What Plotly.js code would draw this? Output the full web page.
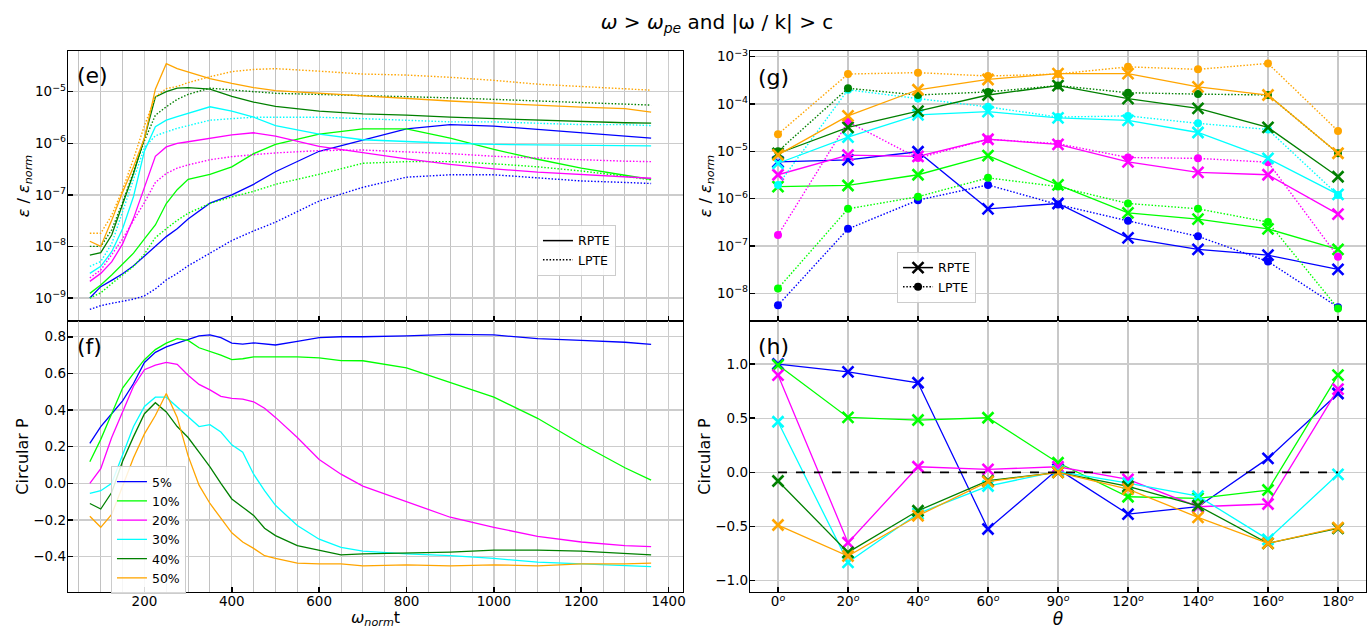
<!DOCTYPE html>
<html>
<head>
<meta charset="utf-8">
<script src="https://cdn.plot.ly/plotly-3.0.1.min.js"></script>
<style>html,body{margin:0;padding:0;background:#fff;}#chart{width:1367px;height:629px;}</style>
</head>
<body>
<div id="chart"></div>
<script>
// ---------- DATA ----------
const seriesNames = ['5%', '10%', '20%', '30%', '40%', '50%'];
const seriesColors = ['#0000ff', '#00ff00', '#ff00ff', '#00ffff', '#008000', '#ffa500'];

// (e) energy vs time
const tE = [75,100,125,150,175,200,225,250,275,300,350,400,450,500,600,700,800,900,1000,1100,1200,1300,1360];
const eR5  = [1.0e-9,1.66e-9,2.2e-9,2.95e-9,4.2e-9,6.5e-9,1.0e-8,1.55e-8,2.2e-8,3.4e-8,6.9e-8,1.0e-7,1.6e-7,2.8e-7,7.0e-7,1.15e-6,1.9e-6,2.3e-6,2.15e-6,1.86e-6,1.6e-6,1.38e-6,1.26e-6];
const eL5  = [6.0e-10,7.1e-10,7.9e-10,8.7e-10,9.5e-10,1.1e-9,1.5e-9,2.24e-9,3.0e-9,4.2e-9,7.4e-9,1.3e-8,2.0e-8,2.95e-8,7.6e-8,1.4e-7,2.2e-7,2.45e-7,2.45e-7,2.1e-7,1.86e-7,1.74e-7,1.66e-7];
const eR10 = [1.23e-9,1.78e-9,2.8e-9,4.5e-9,7.4e-9,1.4e-8,2.6e-8,6.8e-8,1.26e-7,2.0e-7,2.5e-7,3.5e-7,6.3e-7,9.5e-7,1.5e-6,1.9e-6,1.9e-6,1.26e-6,7.6e-7,4.9e-7,3.3e-7,2.4e-7,2.0e-7];
const eL10 = [1.0e-9,1.26e-9,1.9e-9,2.8e-9,4.1e-9,7.1e-9,1.48e-8,2.2e-8,3.2e-8,4.4e-8,6.8e-8,9.1e-8,1.17e-7,1.6e-7,2.5e-7,4.1e-7,4.4e-7,4.4e-7,4.0e-7,3.5e-7,2.9e-7,2.3e-7,1.95e-7];
const eR20 = [2.1e-9,3.0e-9,5.0e-9,1.12e-8,3.5e-8,1.4e-7,5.6e-7,8.5e-7,1.0e-6,1.07e-6,1.26e-6,1.45e-6,1.6e-6,1.38e-6,8.7e-7,6.5e-7,5.0e-7,3.9e-7,3.2e-7,2.75e-7,2.45e-7,2.2e-7,2.1e-7];
const eL20 = [2.45e-9,3.5e-9,6.9e-9,1.4e-8,3.2e-8,7.1e-8,1.74e-7,2.6e-7,3.3e-7,3.8e-7,4.8e-7,5.5e-7,6.0e-7,6.5e-7,7.2e-7,7.4e-7,6.8e-7,6.3e-7,5.6e-7,5.1e-7,4.8e-7,4.5e-7,4.4e-7];
const eR30 = [3.0e-9,4.1e-9,7.9e-9,2.2e-8,9.3e-8,7.1e-7,2.1e-6,2.8e-6,3.3e-6,3.8e-6,5.1e-6,4.2e-6,3.2e-6,2.2e-6,1.5e-6,1.17e-6,1.07e-6,1.0e-6,9.5e-7,9.3e-7,9.1e-7,8.9e-7,8.9e-7];
const eL30 = [4.1e-9,5.1e-9,1.12e-8,4.5e-8,2.0e-7,8.3e-7,1.4e-6,1.66e-6,1.95e-6,2.2e-6,2.8e-6,3.0e-6,3.2e-6,3.2e-6,3.2e-6,3.0e-6,2.8e-6,2.6e-6,2.6e-6,2.45e-6,2.3e-6,2.3e-6,2.2e-6];
const eR40 = [6.8e-9,7.6e-9,1.66e-8,6.6e-8,2.6e-7,1.26e-6,7.9e-6,1.0e-5,1.17e-5,1.2e-5,1.12e-5,8.1e-6,6.3e-6,5.2e-6,4.2e-6,3.7e-6,3.5e-6,3.2e-6,3.0e-6,2.8e-6,2.6e-6,2.5e-6,2.45e-6];
const eL40 = [1.0e-8,1.0e-8,2.1e-8,7.1e-8,2.8e-7,1.12e-6,3.5e-6,5.1e-6,7.1e-6,8.9e-6,1.17e-5,1.1e-5,1.0e-5,9.3e-6,8.9e-6,8.5e-6,7.9e-6,7.6e-6,7.1e-6,6.6e-6,6.2e-6,5.8e-6,5.5e-6];
const eR50 = [1.26e-8,1.0e-8,3.2e-8,1.12e-7,3.5e-7,1.26e-6,1.12e-5,3.5e-5,2.8e-5,2.4e-5,1.8e-5,1.45e-5,1.2e-5,1.05e-5,9.3e-6,8.3e-6,7.4e-6,6.6e-6,6.0e-6,5.4e-6,5.0e-6,4.7e-6,4.0e-6];
const eL50 = [1.8e-8,1.8e-8,4.0e-8,1.26e-7,5.0e-7,2.2e-6,7.9e-6,1.15e-5,1.26e-5,1.5e-5,1.95e-5,2.45e-5,2.7e-5,2.8e-5,2.5e-5,2.2e-5,2.1e-5,1.9e-5,1.66e-5,1.4e-5,1.26e-5,1.12e-5,1.07e-5];

// (f) circular polarisation vs time
const tP = [75,100,125,150,175,200,225,250,275,300,325,350,375,400,425,450,475,500,550,600,650,700,800,900,1000,1100,1200,1300,1360];
const p5  = [0.218,0.31,0.38,0.45,0.545,0.66,0.715,0.745,0.765,0.785,0.805,0.81,0.795,0.765,0.76,0.767,0.76,0.755,0.775,0.795,0.80,0.80,0.805,0.813,0.81,0.79,0.78,0.77,0.758];
const p10 = [0.118,0.24,0.38,0.52,0.60,0.675,0.73,0.765,0.79,0.78,0.74,0.72,0.70,0.675,0.68,0.69,0.688,0.69,0.69,0.685,0.67,0.669,0.63,0.55,0.47,0.355,0.215,0.085,0.018];
const p20 = [0.0,0.08,0.25,0.39,0.53,0.62,0.645,0.66,0.65,0.59,0.54,0.51,0.475,0.464,0.46,0.445,0.41,0.36,0.25,0.13,0.05,-0.015,-0.10,-0.185,-0.24,-0.29,-0.32,-0.34,-0.345];
const p30 = [-0.055,-0.04,0.0,0.15,0.31,0.42,0.47,0.47,0.415,0.36,0.31,0.32,0.28,0.21,0.17,0.05,-0.04,-0.12,-0.23,-0.305,-0.35,-0.37,-0.385,-0.395,-0.41,-0.43,-0.44,-0.45,-0.455];
const p40 = [-0.11,-0.14,-0.05,0.12,0.255,0.38,0.44,0.39,0.31,0.25,0.17,0.09,0.0,-0.085,-0.13,-0.175,-0.245,-0.285,-0.34,-0.365,-0.39,-0.385,-0.38,-0.375,-0.365,-0.365,-0.37,-0.38,-0.39];
const p50 = [-0.18,-0.24,-0.17,-0.02,0.14,0.27,0.37,0.49,0.36,0.15,-0.01,-0.11,-0.19,-0.27,-0.32,-0.355,-0.395,-0.41,-0.435,-0.44,-0.44,-0.45,-0.445,-0.45,-0.445,-0.45,-0.44,-0.44,-0.435];

// (g),(h) versus angle
const thetaDeg = [0,20,40,60,90,120,140,160,180];
const gR5  = [6.0e-6,6.6e-6,9.8e-6,6.1e-7,7.9e-7,1.48e-7,8.5e-8,6.4e-8,3.2e-8];
const gR10 = [1.8e-6,1.9e-6,3.2e-6,8.1e-6,1.95e-6,5.0e-7,3.7e-7,2.3e-7,8.5e-8];
const gR20 = [3.2e-6,8.3e-6,7.8e-6,1.8e-5,1.4e-5,6.0e-6,3.6e-6,3.2e-6,4.7e-7];
const gR30 = [5.6e-6,2.0e-5,5.9e-5,6.9e-5,5.1e-5,4.5e-5,2.5e-5,7.1e-6,1.23e-6];
const gR40 = [9.0e-6,3.2e-5,7.1e-5,1.55e-4,2.45e-4,1.3e-4,8.1e-5,3.2e-5,2.9e-6];
const gR50 = [8.4e-6,5.6e-5,2.0e-4,3.3e-4,4.4e-4,4.4e-4,2.3e-4,1.55e-4,9.1e-6];
const gL5  = [5.6e-9,2.3e-7,9.3e-7,1.95e-6,7.5e-7,3.4e-7,1.6e-7,4.7e-8,5.1e-9];
const gL10 = [1.26e-8,6.1e-7,1.1e-6,2.75e-6,1.8e-6,7.9e-7,6.1e-7,3.2e-7,4.8e-9];
const gL20 = [1.7e-7,4.2e-5,7.2e-6,1.8e-5,1.45e-5,7.4e-6,7.1e-6,5.9e-6,5.9e-8];
const gL30 = [1.95e-6,2.0e-4,1.3e-4,8.7e-5,5.3e-5,5.6e-5,3.9e-5,2.9e-5,1.2e-6];
const gL40 = [1.0e-5,2.15e-4,1.55e-4,1.8e-4,2.45e-4,1.73e-4,1.62e-4,1.55e-4,9.1e-6];
const gL50 = [2.3e-5,4.3e-4,4.6e-4,3.9e-4,4.3e-4,6.1e-4,5.4e-4,7.2e-4,2.7e-5];

const h5  = [1.0,0.928,0.827,-0.523,0.03,-0.385,-0.317,0.129,0.728];
const h10 = [0.99,0.507,0.483,0.504,0.089,-0.225,-0.24,-0.163,0.898];
const h20 = [0.898,-0.649,0.052,0.028,0.052,-0.065,-0.317,-0.292,0.768];
const h30 = [0.467,-0.83,-0.38,-0.126,0.01,-0.10,-0.219,-0.618,-0.018];
const h40 = [-0.08,-0.738,-0.354,-0.077,0.0,-0.13,-0.308,-0.655,-0.517];
const h50 = [-0.486,-0.772,-0.40,-0.085,0.0,-0.154,-0.415,-0.655,-0.51];

const eRPTE = [eR5,eR10,eR20,eR30,eR40,eR50];
const eLPTE = [eL5,eL10,eL20,eL30,eL40,eL50];
const pSeries = [p5,p10,p20,p30,p40,p50];
const gRPTE = [gR5,gR10,gR20,gR30,gR40,gR50];
const gLPTE = [gL5,gL10,gL20,gL30,gL40,gL50];
const hSeries = [h5,h10,h20,h30,h40,h50];
const thetaText = thetaDeg.map(d => d + '<sup><i>o</i></sup>');

// ---------- TRACES ----------
const traces = [];
const LW = 1.3;
const DOT = '1.5px,1.8px';
for (let i = 0; i < 6; i++) {
  traces.push({x: tE, y: eRPTE[i], xaxis: 'x', yaxis: 'y', mode: 'lines',
    line: {color: seriesColors[i], width: LW}, showlegend: false, hoverinfo: 'skip'});
  traces.push({x: tE, y: eLPTE[i], xaxis: 'x', yaxis: 'y', mode: 'lines',
    line: {color: seriesColors[i], width: 1.4, dash: DOT}, showlegend: false, hoverinfo: 'skip'});
}
// legend entries for (e)
traces.push({x: [null], y: [null], xaxis: 'x', yaxis: 'y', mode: 'lines', name: 'RPTE',
  line: {color: 'black', width: 1.5}, legend: 'legend'});
traces.push({x: [null], y: [null], xaxis: 'x', yaxis: 'y', mode: 'lines', name: 'LPTE',
  line: {color: 'black', width: 1.5, dash: DOT}, legend: 'legend'});

for (let i = 0; i < 6; i++) {
  traces.push({x: tP, y: pSeries[i], xaxis: 'x2', yaxis: 'y2', mode: 'lines', name: seriesNames[i],
    line: {color: seriesColors[i], width: LW}, legend: 'legend2', hoverinfo: 'skip'});
}

for (let i = 0; i < 6; i++) {
  traces.push({x: thetaDeg, y: gRPTE[i], xaxis: 'x3', yaxis: 'y3', mode: 'lines+markers',
    line: {color: seriesColors[i], width: 1.3},
    marker: {symbol: 'x-thin', size: 11, color: seriesColors[i], line: {color: seriesColors[i], width: 2.6}},
    showlegend: false, hoverinfo: 'skip'});
  traces.push({x: thetaDeg, y: gLPTE[i], xaxis: 'x3', yaxis: 'y3', mode: 'lines+markers',
    line: {color: seriesColors[i], width: 1.4, dash: DOT},
    marker: {symbol: 'circle', size: 8, color: seriesColors[i]},
    showlegend: false, hoverinfo: 'skip'});
}
traces.push({x: [null], y: [null], xaxis: 'x3', yaxis: 'y3', mode: 'lines+markers', name: 'RPTE',
  line: {color: 'black', width: 1.5},
  marker: {symbol: 'x-thin', size: 11, color: 'black', line: {color: 'black', width: 2.6}}, legend: 'legend3'});
traces.push({x: [null], y: [null], xaxis: 'x3', yaxis: 'y3', mode: 'lines+markers', name: 'LPTE',
  line: {color: 'black', width: 1.5, dash: DOT},
  marker: {symbol: 'circle', size: 8, color: 'black'}, legend: 'legend3'});

for (let i = 0; i < 6; i++) {
  traces.push({x: thetaDeg, y: hSeries[i], xaxis: 'x4', yaxis: 'y4', mode: 'lines+markers',
    line: {color: seriesColors[i], width: 1.3},
    marker: {symbol: 'x-thin', size: 11, color: seriesColors[i], line: {color: seriesColors[i], width: 2.6}},
    showlegend: false, hoverinfo: 'skip'});
}

// ---------- LAYOUT ----------
const FONT = 'DejaVu Sans, Liberation Sans, sans-serif';
const tickFont = {family: FONT, size: 13.5, color: '#000'};
const gridMajor = '#cccccc';
const common = {showline: true, linecolor: '#000', linewidth: 1.2, mirror: true,
  ticks: 'inside', tickcolor: '#000', ticklen: 5, tickwidth: 1.5, tickfont: tickFont,
  showgrid: true, gridcolor: gridMajor, gridwidth: 1.3, zeroline: false};
const yCommon = Object.assign({}, common, {automargin: true, ticklabelstandoff: -2});

const leftX = [0, 0.47381];
const rightX = [0.52542, 1];
const topY = [0.50092, 1];
const botY = [0, 0.50092];

const timeX = Object.assign({}, common, {range: [25, 1433], dtick: 200, tick0: 0, ticklabelstandoff: -3,
  minor: {dtick: 50, tick0: 0, showgrid: true, gridcolor: '#b3b3b3', gridwidth: 0.8, ticks: ''}});
const angX = Object.assign({}, common, {type: 'category', range: [-0.4, 8.4], ticklabelstandoff: -3,
  tickmode: 'array', tickvals: thetaDeg, ticktext: thetaText, gridcolor: '#c8c8c8', gridwidth: 1.2});

const layout = {
  width: 1367, height: 629,
  margin: {l: 68, r: 1, t: 51, b: 37},
  paper_bgcolor: '#fff', plot_bgcolor: '#fff',
  font: {family: FONT, color: '#000'},
  title: {text: '<i>ω</i> > <i>ω</i><sub><i>pe</i></sub> and |ω / k| > c',
    x: 0.5, xref: 'paper', y: 0.965, yanchor: 'middle', font: {family: FONT, size: 20, color: '#000'}},
  xaxis: Object.assign({}, timeX, {domain: leftX, anchor: 'y', showticklabels: false}),
  yaxis: Object.assign({}, yCommon, {domain: topY, anchor: 'x', type: 'log', range: [-9.446, -4.211],
    tickmode: 'array', tickvals: [1e-9,1e-8,1e-7,1e-6,1e-5],
    ticktext: ['10<sup>−9</sup>','10<sup>−8</sup>','10<sup>−7</sup>','10<sup>−6</sup>','10<sup>−5</sup>'],
    title: {text: '<i>ε</i> / <i>ε<sub>norm</sub></i>', font: {family: FONT, size: 16}, standoff: 0}}),
  xaxis2: Object.assign({}, timeX, {domain: leftX, anchor: 'y2',
    title: {text: '<i>ω<sub>norm</sub></i>t', font: {family: FONT, size: 16}}}),
  yaxis2: Object.assign({}, yCommon, {domain: botY, anchor: 'x2', range: [-0.593, 0.886],
    tickmode: 'array', tickvals: [-0.4,-0.2,0,0.2,0.4,0.6,0.8],
    ticktext: ['−0.4','−0.2','0.0','0.2','0.4','0.6','0.8'],
    title: {text: 'Circular P', font: {family: FONT, size: 16}, standoff: 0}}),
  xaxis3: Object.assign({}, angX, {domain: rightX, anchor: 'y3', showticklabels: false}),
  yaxis3: Object.assign({}, yCommon, {domain: topY, anchor: 'x3', type: 'log', range: [-8.585, -2.88],
    tickmode: 'array', tickvals: [1e-8,1e-7,1e-6,1e-5,1e-4,1e-3],
    ticktext: ['10<sup>−8</sup>','10<sup>−7</sup>','10<sup>−6</sup>','10<sup>−5</sup>','10<sup>−4</sup>','10<sup>−3</sup>'],
    title: {text: '<i>ε</i> / <i>ε<sub>norm</sub></i>', font: {family: FONT, size: 16}, standoff: 0}}),
  xaxis4: Object.assign({}, angX, {domain: rightX, anchor: 'y4',
    title: {text: '<i>θ</i>', font: {family: FONT, size: 17}}}),
  yaxis4: Object.assign({}, yCommon, {domain: botY, anchor: 'x4', range: [-1.104, 1.397],
    tickmode: 'array', tickvals: [-1,-0.5,0,0.5,1],
    ticktext: ['−1.0','−0.5','0.0','0.5','1.0'],
    title: {text: 'Circular P', font: {family: FONT, size: 16}, standoff: 0}}),
  shapes: [{type: 'line', xref: 'x4', yref: 'y4', x0: 0, x1: 8, y0: 0, y1: 0,
    line: {color: '#000', width: 1.6, dash: 'dash'}, layer: 'above'}],
  legend: {x: 0.3613, y: 0.6784, xanchor: 'left', yanchor: 'top', bgcolor: 'rgba(255,255,255,0.85)',
    bordercolor: '#cccccc', borderwidth: 1, font: {family: FONT, size: 12.5}, tracegroupgap: 0},
  legend2: {x: 0.0331, y: 0.2329, xanchor: 'left', yanchor: 'top', bgcolor: 'rgba(255,255,255,0.85)',
    bordercolor: '#cccccc', borderwidth: 1, font: {family: FONT, size: 12.5}},
  legend3: {x: 0.6387, y: 0.6285, xanchor: 'left', yanchor: 'top', bgcolor: 'rgba(255,255,255,0.85)',
    bordercolor: '#cccccc', borderwidth: 1, font: {family: FONT, size: 12.5}},
  annotations: [
    {text: '(e)', xref: 'paper', yref: 'paper', x: 0.0054, y: 0.9538, xanchor: 'left', yanchor: 'middle', showarrow: false, font: {family: FONT, size: 22}},
    {text: '(f)', xref: 'paper', yref: 'paper', x: 0.0054, y: 0.4534, xanchor: 'left', yanchor: 'middle', showarrow: false, font: {family: FONT, size: 22}},
    {text: '(g)', xref: 'paper', yref: 'paper', x: 0.5303, y: 0.9510, xanchor: 'left', yanchor: 'middle', showarrow: false, font: {family: FONT, size: 22}},
    {text: '(h)', xref: 'paper', yref: 'paper', x: 0.5303, y: 0.4534, xanchor: 'left', yanchor: 'middle', showarrow: false, font: {family: FONT, size: 22}}
  ]
};

Plotly.newPlot('chart', traces, layout, {displayModeBar: false, staticPlot: true});
</script>
</body>
</html>
